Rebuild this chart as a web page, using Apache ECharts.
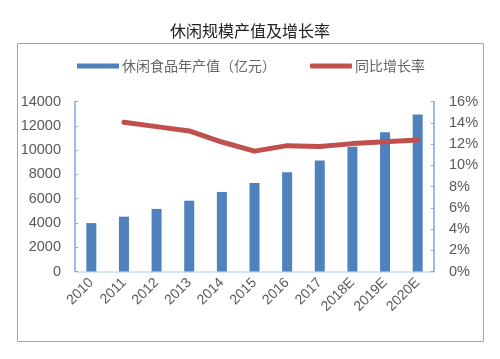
<!DOCTYPE html>
<html><head><meta charset="utf-8">
<script src="https://cdn.jsdelivr.net/npm/echarts@6/dist/echarts.min.js"></script>
<style>html,body{margin:0;padding:0;background:#fff}#c{width:500px;height:359px}</style>
</head><body><div id="c"></div>
<script>
var categories = ['2010','2011','2012','2013','2014','2015','2016','2017','2018E','2019E','2020E'];
var outputValues = [3990, 4520, 5160, 5840, 6560, 7300, 8180, 9160, 10280, 11490, 12950];
var growthRates = [null, 14.06, 13.65, 13.24, 12.2, 11.34, 11.86, 11.77, 12.05, 12.23, 12.39];
var leftTicks = {min: 0, max: 14000, interval: 2000};
var rightTicks = {min: 0, max: 16, interval: 2};
var seriesNames = ['休闲食品年产值（亿元）', '同比增长率'];
var titleText = '休闲规模产值及增长率';

var chart = echarts.init(document.getElementById('c'), null, {renderer: 'canvas'});
var labelColor = '#595959';
var axisBlue = '#7ea6dc';
chart.setOption({
  animation: false,
  title: {text: titleText, left: 'center', top: 18, textStyle: {fontFamily: 'Noto Sans CJK SC', fontSize: 16, fontWeight: 'normal', color: '#222'}},
  graphic: [{type: 'rect', shape: {x: 17.5, y: 43.5, width: 466, height: 298}, style: {fill: 'none', stroke: '#a6a6a6', lineWidth: 1}, z: -1}],
  legend: {
    top: 54, left: 72, itemGap: 34, itemWidth: 42, itemHeight: 5,
    textStyle: {fontFamily: 'Noto Sans CJK SC', fontSize: 14, color: '#666', padding: [0,0,0,-2]},
    data: [{name: seriesNames[0], icon: 'rect'}, {name: seriesNames[1], icon: 'roundRect'}]
  },
  grid: {left: 75, right: 66, top: 101.7, bottom: 87.5},
  xAxis: {
    type: 'category', data: categories,
    axisLine: {lineStyle: {color: '#d0dbe8', width: 1.5}},
    axisTick: {show: false},
    axisLabel: {rotate: 45, fontFamily: 'Liberation Sans', fontSize: 14, color: labelColor, margin: 9, interval: 0}
  },
  yAxis: [{
    type: 'value', min: leftTicks.min, max: leftTicks.max, interval: leftTicks.interval,
    axisLine: {show: true, lineStyle: {color: axisBlue, width: 1.5}},
    axisTick: {show: true, inside: true, length: 3, lineStyle: {color: axisBlue}},
    splitLine: {show: false},
    axisLabel: {fontFamily: 'Liberation Sans', fontSize: 14.5, color: labelColor, margin: 14, formatter: function (v) { return String(v); }}
  }, {
    type: 'value', min: rightTicks.min, max: rightTicks.max, interval: rightTicks.interval,
    axisLine: {show: true, lineStyle: {color: axisBlue, width: 1.5}},
    axisTick: {show: true, inside: true, length: 3, lineStyle: {color: axisBlue}},
    splitLine: {show: false},
    axisLabel: {fontFamily: 'Liberation Sans', fontSize: 14.5, color: labelColor, margin: 15, formatter: '{value}%'}
  }],
  series: [{
    name: seriesNames[0], type: 'bar', data: outputValues, barWidth: 10,
    itemStyle: {color: '#4f81bd'}
  }, {
    name: seriesNames[1], type: 'line', yAxisIndex: 1, data: growthRates,
    showSymbol: false, symbol: 'none', connectNulls: false,
    lineStyle: {color: '#c0504d', width: 5, cap: 'round', join: 'round'},
    itemStyle: {color: '#c0504d'}
  }]
});
</script></body></html>
